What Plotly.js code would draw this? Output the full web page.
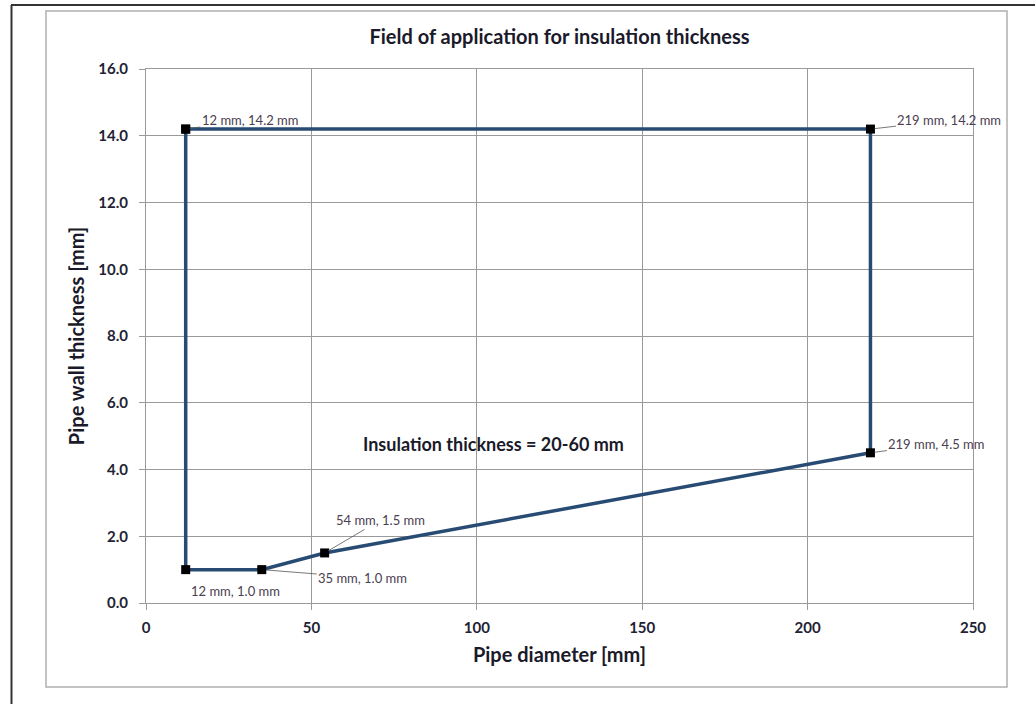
<!DOCTYPE html>
<html>
<head>
<meta charset="utf-8">
<script src="https://cdn.plot.ly/plotly-3.0.1.min.js"></script>
<style>
  html, body { margin: 0; padding: 0; background: #ffffff; }
  #chart { width: 1035px; height: 704px; }
</style>
</head>
<body>
<div id="chart"></div>
<script>
// Data
const pipeDiameter = [12, 219, 219, 54, 35, 12, 12];
const wallThickness = [14.2, 14.2, 4.5, 1.5, 1.0, 1.0, 14.2];

// Labelled points
const labelX = [12, 219, 219, 54, 35, 12];
const labelY = [14.2, 14.2, 4.5, 1.5, 1.0, 1.0];
const labelText = ["12 mm, 14.2 mm", "219 mm, 14.2 mm", "219 mm, 4.5 mm",
                   "54 mm, 1.5 mm", "35 mm, 1.0 mm", "12 mm, 1.0 mm"];

const chartTitle = "Field of application for insulation thickness";
const xTitle = "Pipe diameter [mm]";
const yTitle = "Pipe wall thickness [mm]";
const noteText = "Insulation thickness = 20-60 mm";
const noteX = 105;
const noteY = 4.75;

// Label placement (pixel offsets from point)
const labelStyle = [
  {ax: 64, ay: -9, arrow: true},
  {ax: 79, ay: -9, arrow: true},
  {ax: 66, ay: -9, arrow: true},
  {ax: 56, ay: -33, arrow: true},
  {ax: 101, ay: 8, arrow: true},
  {ax: 50, ay: 21, arrow: false}
];

const font = "Lato, 'Open Sans', 'DejaVu Sans', sans-serif";
const gridCol = "#9a9a9a";

const annotations = labelText.map((t, i) => {
  const s = labelStyle[i];
  if (s.arrow) {
    return {
      x: labelX[i], y: labelY[i], xref: "x", yref: "y",
      text: t, showarrow: true, arrowhead: 0, arrowwidth: 0.8,
      arrowcolor: "#555555", ax: s.ax, ay: s.ay, standoff: 4,
      font: {family: font, size: 13, color: "#4a4050"}
    };
  }
  return {
    x: labelX[i], y: labelY[i], xref: "x", yref: "y",
    text: t, showarrow: false, xshift: s.ax, yshift: -s.ay,
    font: {family: font, size: 13, color: "#4a4050"}
  };
});

annotations.push({
  x: noteX, y: noteY, xref: "x", yref: "y", text: "<b>" + noteText + "</b>",
  showarrow: false, font: {family: font, size: 18, color: "#1a1a2a"}
});

// plot area pixel geometry
const L = 146, R = 973, T = 69, B = 603, W = 1035, H = 704;
const px = p => (p - L) / (R - L);
const py = p => (B - p) / (B - T);

const shapes = [
  // inner chart border
  {type: "rect", xref: "paper", yref: "paper",
   x0: px(46), x1: px(1007), y0: py(687), y1: py(11),
   line: {color: "#b0b0b0", width: 1.5}, layer: "below"},
  // outer document frame
  {type: "line", xref: "paper", yref: "paper",
   x0: px(11), x1: px(1035), y0: py(5), y1: py(5),
   line: {color: "#333333", width: 2}},
  {type: "line", xref: "paper", yref: "paper",
   x0: px(11.5), x1: px(11.5), y0: py(5), y1: py(704),
   line: {color: "#333333", width: 2}}
];

const trace = {
  x: pipeDiameter, y: wallThickness, type: "scatter", mode: "lines+markers",
  line: {color: "#284B74", width: 3.5},
  marker: {symbol: "square", size: 9, color: "#000000"},
  cliponaxis: false, hoverinfo: "x+y"
};

const layout = {
  width: W, height: H,
  margin: {l: L, r: W - R, t: T, b: H - B},
  paper_bgcolor: "#ffffff", plot_bgcolor: "#ffffff",
  showlegend: false,
  title: {text: "<b>" + chartTitle + "</b>", x: 0.5, xref: "paper",
          y: 1 - 37 / H, yanchor: "middle",
          font: {family: font, size: 20, color: "#1a1a2a"}},
  xaxis: {
    range: [0, 250], dtick: 50, tick0: 0,
    showgrid: true, gridcolor: gridCol, gridwidth: 1,
    showline: true, linecolor: gridCol, linewidth: 1, mirror: true,
    ticks: "outside", ticklen: 6, tickcolor: gridCol,
    zeroline: false, automargin: false, ticklabelstandoff: 5,
    tickfont: {family: font, size: 15, color: "#222233", weight: "bold"},
    title: {text: "<b>" + xTitle + "</b>", standoff: 12,
            font: {family: font, size: 20, color: "#1a1a2a"}}
  },
  yaxis: {
    range: [0, 16], dtick: 2, tick0: 0, tickformat: ".1f",
    showgrid: true, gridcolor: gridCol, gridwidth: 1,
    showline: true, linecolor: gridCol, linewidth: 1, mirror: true,
    ticks: "outside", ticklen: 6, tickcolor: gridCol,
    zeroline: false, automargin: false, ticklabelstandoff: 8,
    tickfont: {family: font, size: 15, color: "#222233", weight: "bold"},
    title: {text: "<b>" + yTitle + "</b>", standoff: 8,
            font: {family: font, size: 20, color: "#1a1a2a"}}
  },
  annotations: annotations,
  shapes: shapes
};

Plotly.newPlot("chart", [trace], layout, {displayModeBar: false, staticPlot: true});
</script>
</body>
</html>
